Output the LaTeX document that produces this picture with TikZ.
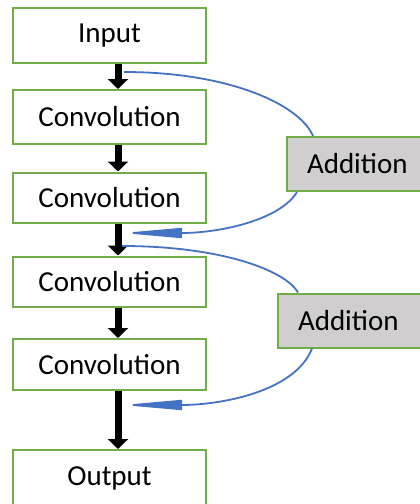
\documentclass[tikz,border=0pt]{standalone}
\usepackage{fontspec}
\setmainfont{Carlito}
\usetikzlibrary{arrows.meta,calc}
\definecolor{boxgreen}{RGB}{112,173,71}
\definecolor{addgray}{RGB}{208,206,206}
\definecolor{skipblue}{RGB}{68,114,196}
\begin{document}
\begin{tikzpicture}[x=1pt,y=-1pt,
        layer/.style={draw=boxgreen,line width=2pt,minimum width=193pt,minimum height=50pt,inner sep=0pt,font=\fontsize{29}{34}\selectfont},
        addbox/.style={draw=boxgreen,fill=addgray,line width=2pt,minimum height=54pt,text width=125pt,align=left,inner xsep=20pt,inner ysep=0pt,anchor=west,font=\fontsize{29}{34}\selectfont},
        flow/.style={line width=7pt,-{Triangle[width=20pt,length=10pt]}},
        skip/.style={draw=skipblue,line width=1.8pt},
        skiparrow/.style={skip,-{Triangle[width=10pt,length=60pt]}}]
        \useasboundingbox (0,0) rectangle (420,504);
        \node[layer,minimum height=55pt] (in) at (109.5,35.5) {Input};
        \node[layer,minimum height=54pt] (c1) at (109.5,117) {Convolution};
        \node[layer] (c2) at (109.5,197.5) {Convolution};
        \node[layer] (c3) at (109.5,281.5) {Convolution};
        \node[layer,minimum height=51pt] (c4) at (109.5,364.5) {Convolution};
        \node[layer,minimum height=56pt] (out) at (109.5,478) {Output};
        \node[addbox] (add1) at (286,164) {Addition};
        \node[addbox] (add2) at (277,320.5) {Addition};
        \coordinate (ax) at (118,0);
        \draw[flow] (ax |- in.south) -- (ax |- c1.north);
        \draw[flow] (ax |- c1.south) -- (ax |- c2.north);
        \draw[flow] (ax |- c2.south) -- (ax |- c3.north);
        \draw[flow] (ax |- c3.south) -- (ax |- c4.north);
        \draw[flow] (ax |- c4.south) -- (ax |- out.north);
        \coordinate (j1) at (124,72);
        \coordinate (j2) at (122,233);
        \coordinate (j3) at (122,246);
        \coordinate (j4) at (122,405);
        \draw[skip] (j1) .. controls (230,72) and (300,105) .. ($(add1.north west)+(27,0)$);
        \draw[skiparrow] ($(add1.south west)+(11,0)$) .. controls (280,220) and (220,233) .. (j2);
        \draw[skip] (j3) .. controls (220,246) and (285,270) .. ($(add2.north west)+(21,0)$);
        \draw[skiparrow] ($(add2.south west)+(35,0)$) .. controls (295,392) and (220,405) .. (j4);
\end{tikzpicture}
\end{document}
